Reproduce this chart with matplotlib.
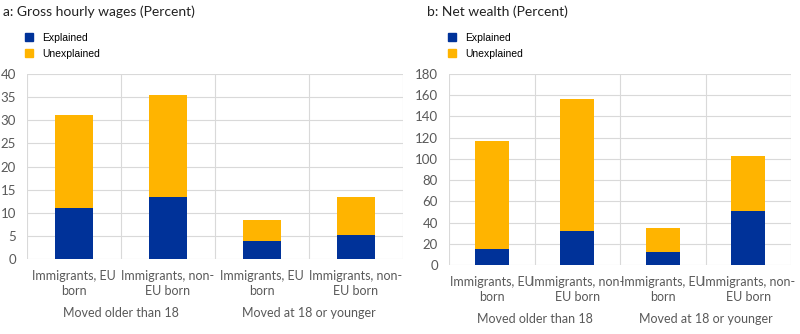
import matplotlib.pyplot as plt
from matplotlib.patches import Patch

# ======================== data ================================

categories = ['Immigrants, EU\nborn', 'Immigrants, non-\nEU born',
              'Immigrants, EU\nborn', 'Immigrants, non-\nEU born']
groups = ['Moved older than 18', 'Moved at 18 or younger']

wages_explained = [11.0, 13.5, 3.8, 5.2]
wages_unexplained = [20.1, 22.0, 4.6, 8.1]

wealth_explained = [14.8, 32.0, 12.5, 51.0]
wealth_unexplained = [102.2, 124.0, 22.4, 51.7]

# ======================== style ================================

blue = '#003299'
yellow = '#FFB400'
grid_col = '#d9d9d9'
text_col = '#595959'
font = 'Lato'

plt.rcParams['font.family'] = [font, 'DejaVu Sans']

fig = plt.figure(figsize=(8.0, 3.34), dpi=100)
W, H = 800, 334


def panel(rect, explained, unexplained, ymax, ystep, title, title_x, leg_x):
    x0, x1, ytop, ybot = rect
    ax = fig.add_axes([x0 / W, 1 - ybot / H, (x1 - x0) / W, (ybot - ytop) / H])
    xs = range(len(categories))
    ax.bar(xs, explained, width=0.4, color=blue, zorder=3)
    ax.bar(xs, unexplained, width=0.4, bottom=explained, color=yellow, zorder=3)

    ax.set_xlim(-0.5, len(categories) - 0.5)
    ax.set_ylim(0, ymax)
    ax.set_yticks(range(0, ymax + 1, ystep))
    ax.set_xticks(list(xs))
    ax.set_xticklabels(categories, fontsize=9, color=text_col, linespacing=1.3)
    ax.set_xticks([i - 0.5 for i in range(len(categories) + 1)], minor=True)
    ax.tick_params(axis='x', which='both', length=0, pad=8)
    ax.tick_params(axis='y', length=0, pad=8, labelsize=9.5, labelcolor=text_col)
    ax.grid(axis='y', color=grid_col, linewidth=0.8, zorder=0)
    ax.grid(axis='x', which='minor', color=grid_col, linewidth=0.8, zorder=0)
    for s in ax.spines.values():
        s.set_visible(False)

    for g, name in enumerate(groups):
        ax.annotate(name, xy=(2 * g + 0.5, 0), xycoords=('data', 'axes fraction'),
                    xytext=(0, -39), textcoords='offset points',
                    ha='center', va='center', fontsize=9, color=text_col)

    fig.text(title_x / W, 1 - 12 / H, title, fontsize=10, color='#222222',
             ha='left', va='center')
    handles = [Patch(color=blue, label='Explained'),
               Patch(color=yellow, label='Unexplained')]
    fig.legend(handles=handles, loc='upper left',
               bbox_to_anchor=(leg_x / W, 1 - 33 / H), frameon=False,
               handlelength=0.75, handleheight=0.8,
               handletextpad=0.9, labelspacing=0.55, borderpad=0,
               borderaxespad=0,
               prop={'family': 'Liberation Sans', 'size': 7.5})
    return ax


panel((27, 403, 74, 259), wages_explained, wages_unexplained, 40, 5,
      'a: Gross hourly wages (Percent)', 3, 25)
panel((449, 791, 74, 265), wealth_explained, wealth_unexplained, 180, 20,
      'b: Net wealth (Percent)', 427, 448)

fig.savefig('out.png', dpi=100)
